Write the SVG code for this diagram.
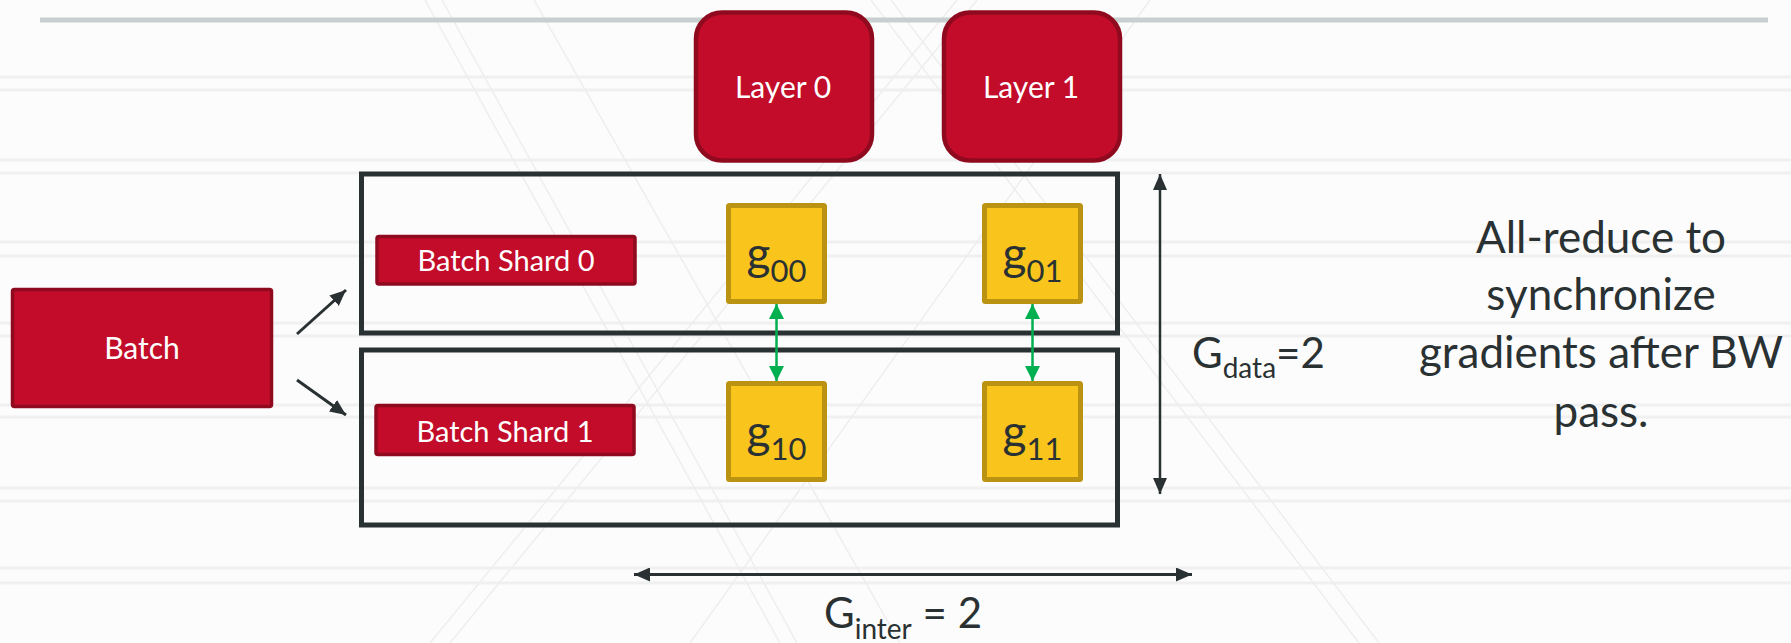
<svg xmlns="http://www.w3.org/2000/svg" width="1791" height="643" viewBox="0 0 1791 643">
<style>
.bgl{stroke:#f0f0f0;stroke-width:3;fill:none}
.dg{stroke:#eeeeee;stroke-width:1.5;fill:none}
.red{fill:#c20c2a;stroke:#8f0a1f}
.redt{font-family:Lato,"Open Sans",sans-serif;fill:#ffffff;text-anchor:middle}
.box{fill:none;stroke:#2a3132;stroke-width:5}
.gbox{fill:#f9c41c;stroke:#bb9312;stroke-width:5}
.gt{font-family:Lato,"Open Sans",sans-serif;fill:#2a3132;font-size:46px;text-anchor:middle}
.dark{stroke:#2a3132;fill:none}
.green{stroke:#00b050;stroke-width:2.5;fill:none}
.lbl{font-family:Lato,"Open Sans",sans-serif;fill:#2a3132}
</style>
<defs>
<marker id="ah" markerUnits="userSpaceOnUse" markerWidth="16" markerHeight="14" refX="16" refY="7" orient="auto-start-reverse" viewBox="0 0 16 14">
<path d="M0,0 L16,7 L0,14 z" fill="#2a3132"/>
</marker>
<marker id="ag" markerUnits="userSpaceOnUse" markerWidth="15" markerHeight="15" refX="15" refY="7.5" orient="auto-start-reverse" viewBox="0 0 15 15">
<path d="M0,0 L15,7.5 L0,15 z" fill="#00b050"/>
</marker>
</defs>
<rect x="0" y="0" width="1791" height="643" fill="#fcfcfc"/>
<g id="background">
<line class="bgl" x1="0" y1="77" x2="1791" y2="77"/><line class="bgl" x1="0" y1="90" x2="1791" y2="90"/>
<line class="bgl" x1="0" y1="160" x2="1791" y2="160"/><line class="bgl" x1="0" y1="173" x2="1791" y2="173"/>
<line class="bgl" x1="0" y1="242" x2="1791" y2="242"/><line class="bgl" x1="0" y1="256" x2="1791" y2="256"/>
<line class="bgl" x1="0" y1="323" x2="1791" y2="323"/><line class="bgl" x1="0" y1="336" x2="1791" y2="336"/>
<line class="bgl" x1="0" y1="405" x2="1791" y2="405"/><line class="bgl" x1="0" y1="417" x2="1791" y2="417"/>
<line class="bgl" x1="0" y1="488" x2="1791" y2="488"/><line class="bgl" x1="0" y1="501" x2="1791" y2="501"/>
<line class="bgl" x1="0" y1="568" x2="1791" y2="568"/><line class="bgl" x1="0" y1="583" x2="1791" y2="583"/>
<line class="dg" x1="425" y1="0" x2="780" y2="643"/><line class="dg" x1="442" y1="0" x2="797" y2="643"/>
<line class="dg" x1="534" y1="0" x2="900" y2="643"/>
<line class="dg" x1="957" y1="0" x2="430" y2="643"/><line class="dg" x1="977" y1="0" x2="450" y2="643"/>
<line class="dg" x1="891" y1="0" x2="1379" y2="643"/><line class="dg" x1="871" y1="0" x2="1359" y2="643"/>
<line class="dg" x1="1150" y1="0" x2="690" y2="643"/>
</g>
<line x1="40" y1="20" x2="1768" y2="20" stroke="#c8cfd1" stroke-width="5"/>
<g id="layer0"><rect class="red" x="696" y="12.5" width="176" height="148" rx="26" stroke-width="4.5"/><text class="redt" x="783" y="98" font-size="30">Layer 0</text></g>
<g id="layer1"><rect class="red" x="944" y="12.5" width="176" height="148" rx="26" stroke-width="4.5"/><text class="redt" x="1031" y="98" font-size="30">Layer 1</text></g>
<g id="row0"><rect class="box" x="361.5" y="174" width="756" height="159"/></g>
<g id="row1"><rect class="box" x="361.5" y="350" width="756" height="175"/></g>
<g id="batch"><rect class="red" x="12.5" y="289.5" width="259" height="117" rx="2" stroke-width="3.5"/><text class="redt" x="142" y="359" font-size="30">Batch</text></g>
<g id="shard0"><rect class="red" x="377" y="236.5" width="258" height="47.5" rx="2" stroke-width="3.5"/><text class="redt" x="506" y="271" font-size="29">Batch Shard 0</text></g>
<g id="shard1"><rect class="red" x="376" y="405.5" width="258" height="49" rx="2" stroke-width="3.5"/><text class="redt" x="505" y="442" font-size="29">Batch Shard 1</text></g>
<g id="g00"><rect class="gbox" x="728.5" y="205.5" width="96" height="96" rx="1"/><text class="gt" x="776.5" y="270">g<tspan dy="12" font-size="31">00</tspan></text></g>
<g id="g01"><rect class="gbox" x="984.5" y="205.5" width="96" height="96" rx="1"/><text class="gt" x="1032.5" y="270">g<tspan dy="12" font-size="31">01</tspan></text></g>
<g id="g10"><rect class="gbox" x="728.5" y="383.5" width="96" height="96" rx="1"/><text class="gt" x="776.5" y="448">g<tspan dy="12" font-size="31">10</tspan></text></g>
<g id="g11"><rect class="gbox" x="984.5" y="383.5" width="96" height="96" rx="1"/><text class="gt" x="1032.5" y="448">g<tspan dy="12" font-size="31">11</tspan></text></g>
<g id="connectors">
<line class="dark" stroke-width="3" x1="297" y1="334" x2="346" y2="290" marker-end="url(#ah)"/>
<line class="dark" stroke-width="3" x1="297" y1="380" x2="346" y2="415" marker-end="url(#ah)"/>
<line class="green" x1="776.5" y1="304" x2="776.5" y2="381" marker-start="url(#ag)" marker-end="url(#ag)"/>
<line class="green" x1="1032.5" y1="304" x2="1032.5" y2="381" marker-start="url(#ag)" marker-end="url(#ag)"/>
<line class="dark" stroke-width="2.5" x1="1160" y1="174" x2="1160" y2="494" marker-start="url(#ah)" marker-end="url(#ah)"/>
<line class="dark" stroke-width="3" x1="634" y1="574.5" x2="1192" y2="574.5" marker-start="url(#ah)" marker-end="url(#ah)"/>
</g>
<g id="labels">
<text class="lbl" x="1192" y="368" font-size="42">G<tspan dy="10" font-size="28">data</tspan><tspan dy="-10">=2</tspan></text>
<text class="lbl" x="903" y="628" font-size="42" text-anchor="middle">G<tspan dy="11" font-size="28">inter</tspan><tspan dy="-11"> = 2</tspan></text>
<text class="lbl" font-size="44" text-anchor="middle"><tspan x="1601" y="253">All-reduce to</tspan><tspan x="1601" y="310">synchronize</tspan><tspan x="1601" y="368">gradients after BW</tspan><tspan x="1601" y="427">pass.</tspan></text>
</g>
</svg>
